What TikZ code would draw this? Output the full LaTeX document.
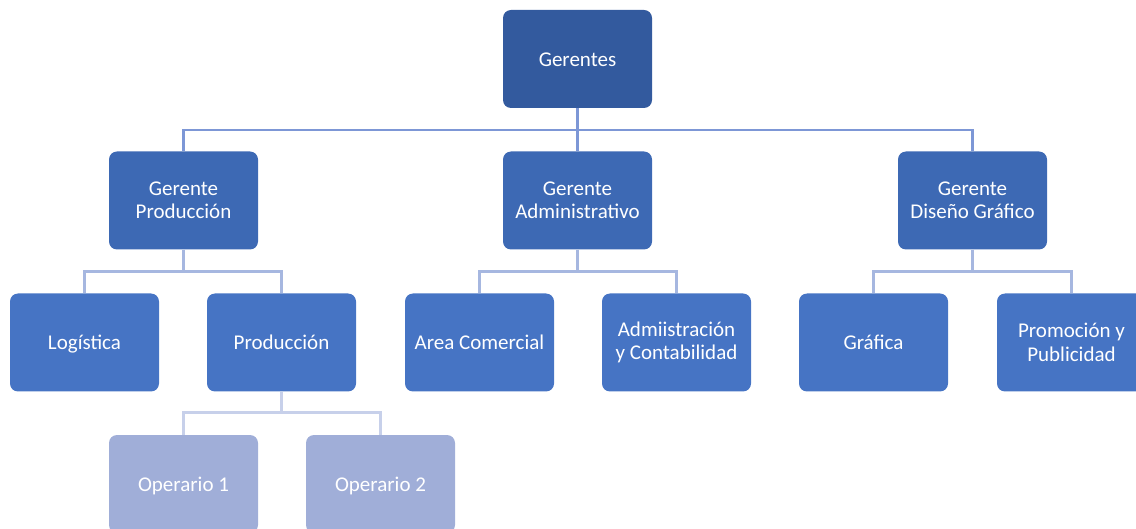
\documentclass[tikz,border=0pt]{standalone}
\usepackage{fontspec}
\setmainfont{Carlito}
\definecolor{cA}{HTML}{335A9E}
\definecolor{cB}{HTML}{3D69B4}
\definecolor{cC}{HTML}{4674C4}
\definecolor{cD}{HTML}{A0AED8}
\definecolor{lA}{HTML}{7D97D6}
\definecolor{lB}{HTML}{A6B7E0}
\definecolor{lC}{HTML}{C7D0EA}
\begin{document}
\begin{tikzpicture}[x=1pt,y=-1pt,
  box/.style={rounded corners=8pt, minimum width=149pt, minimum height=98pt, text=white, align=center, inner sep=2pt, font=\fontsize{21}{23.5}\selectfont},
  one/.style={text height=16pt, text depth=1pt},
  bA/.style={box, fill=cA},
  bB/.style={box, fill=cB},
  bC/.style={box, fill=cC},
  bD/.style={box, fill=cD},
  lnA/.style={draw=lA, line width=2.6pt},
  lnB/.style={draw=lB, line width=2.6pt},
  lnC/.style={draw=lC, line width=2.6pt}]
\useasboundingbox (0,0) rectangle (1136,529);
\node[bA,one] (g) at (577.5,59) {Gerentes};
\node[bB] (gp) at (183.5,200.5) {Gerente\\Producción};
\node[bB] (ga) at (577.5,200.5) {Gerente\\Administrativo};
\node[bB] (gd) at (972.5,200.5) {Gerente\\Diseño Gráfico};
\node[bC,one] (lo) at (84.5,342.5) {Logística};
\node[bC,one] (pr) at (281.5,342.5) {Producción};
\node[bC,one] (ac) at (479.5,342.5) {Area Comercial};
\node[bC] (adm) at (676.5,342.5) {Admiistración\\y Contabilidad};
\node[bC,one] (gr) at (873.5,342.5) {Gráfica};
\node[bC] (pp) at (1071.5,342.5) {Promoción y\\Publicidad};
\node[bD,one] (o1) at (183.5,484) {Operario 1};
\node[bD,one] (o2) at (380.5,484) {Operario 2};
% level 1 connectors
\draw[lnA] (g.south) -- ++(0,22) coordinate (b1);
\draw[lnA] (gp.north) |- (b1) -| (gd.north);
\draw[lnA] (b1) -- (ga.north);
% level 2 connectors
\draw[lnB] (gp.south) -- ++(0,22) coordinate (b2);
\draw[lnB] (lo.north) |- (b2) -| (pr.north);
\draw[lnB] (ga.south) -- ++(0,22) coordinate (b3);
\draw[lnB] (ac.north) |- (b3) -| (adm.north);
\draw[lnB] (gd.south) -- ++(0,22) coordinate (b4);
\draw[lnB] (gr.north) |- (b4) -| (pp.north);
% level 3 connectors
\draw[lnC] (pr.south) -- ++(0,21) coordinate (b5);
\draw[lnC] (o1.north) |- (b5) -| (o2.north);
\end{tikzpicture}
\end{document}
